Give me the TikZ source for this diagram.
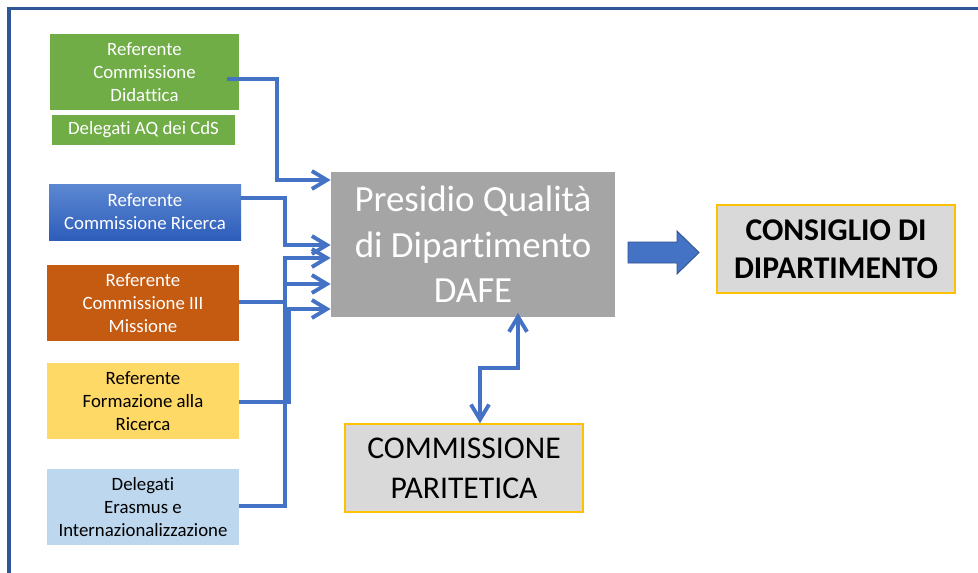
\documentclass[tikz,border=0pt]{standalone}
\usepackage{fontspec}
\setmainfont{Carlito}[Ligatures={NoCommon,NoRare}]
\usetikzlibrary{arrows.meta}
\definecolor{frameblue}{RGB}{47,85,151}
\definecolor{lineblue}{RGB}{68,114,196}
\definecolor{arrowedge}{RGB}{47,82,143}
\definecolor{didgreen}{RGB}{112,173,71}
\definecolor{rictop}{RGB}{92,136,210}
\definecolor{ricbottom}{RGB}{46,93,186}
\definecolor{terzaorange}{RGB}{197,90,17}
\definecolor{formyellow}{RGB}{255,217,102}
\definecolor{eraslight}{RGB}{189,215,238}
\definecolor{pqgray}{RGB}{165,165,165}
\definecolor{boxgray}{RGB}{217,217,217}
\definecolor{boxgold}{RGB}{255,192,0}

\begin{document}
\begin{tikzpicture}[
	small/.style={minimum width=3.84cm, minimum height=1.52cm, align=center, inner sep=0pt,
		font=\fontsize{10.7}{13}\selectfont},
	big/.style={fill=boxgray, draw=boxgold, line width=0.8pt, minimum width=4.76cm,
		minimum height=1.76cm, align=center, inner sep=0pt},
	link/.style={lineblue, line width=2.2pt, -{Straight Barb[length=0.3cm,width=0.36cm]}},
	both/.style={lineblue, line width=2.2pt,
		{Straight Barb[length=0.3cm,width=0.36cm]}-{Straight Barb[length=0.3cm,width=0.36cm]}}
	]
	\useasboundingbox (0,0) rectangle (19.56,-11.46);
	
	% frame
	\draw[frameblue, line width=2.2pt] (0.18,-11.46) -- (0.18,-0.17) -- (19.56,-0.17);
	
	% left boxes
	\node[small, fill=didgreen, text=white, minimum width=3.78cm] (did) at (2.89,-1.44)
		{Referente\\Commissione\\Didattica};
	\node[small, fill=didgreen, text=white, minimum width=3.66cm, minimum height=0.6cm] (aq) at (2.87,-2.60)
		{Delegati AQ dei CdS};
	\node[small, top color=rictop, bottom color=ricbottom, text=white, minimum height=1.12cm] (ric) at (2.90,-4.24)
		{Referente\\Commissione Ricerca};
	\node[small, fill=terzaorange, text=white] (terza) at (2.86,-6.06)
		{Referente\\Commissione III\\Missione};
	\node[small, fill=formyellow] (form) at (2.86,-8.02)
		{Referente\\Formazione alla\\Ricerca};
	\node[small, fill=eraslight] (eras) at (2.86,-10.14)
		{Delegati\\Erasmus e\\Internazionalizzazione};
	
	% presidio
	\node[fill=pqgray, text=white, minimum width=5.68cm, minimum height=2.90cm, align=center, inner sep=0pt,
		font=\fontsize{21}{25.8}\selectfont] (pq) at (9.46,-4.89)
		{Presidio Qualità\\di Dipartimento\\DAFE};
	
	% right and bottom boxes
	\node[big, font=\fontsize{18}{21.5}\selectfont\bfseries] (cons) at (16.72,-4.98)
		{CONSIGLIO DI\\DIPARTIMENTO};
	\node[big, font=\fontsize{18}{22.7}\selectfont] (cp) at (9.28,-9.36)
		{COMMISSIONE\\PARITETICA};
	
	% block arrow
	\fill[lineblue, draw=arrowedge, line width=0.5pt] (12.56,-4.84) -- (13.54,-4.84) -- (13.54,-4.62)
		-- (13.98,-5.05) -- (13.54,-5.48) -- (13.54,-5.26) -- (12.56,-5.26) -- cycle;
	
	% connectors
	\draw[link] (4.54,-1.58) -| (5.54,-3.60) -- (pq.west |- 0,-3.60);
	\draw[link] (ric.east |- 0,-3.96) -| (5.70,-4.90) -- (pq.west |- 0,-4.90);
	\draw[link] (terza.east |- 0,-6.04) -| (5.70,-5.16) -- (pq.west |- 0,-5.16);
	\draw[link] (eras.east |- 0,-10.12) -| (5.70,-5.68) -- (pq.west |- 0,-5.68);
	\draw[link] (form.east |- 0,-8.04) -| (5.78,-6.18) -- (pq.west |- 0,-6.18);
	\draw[both] (cp.north -| 9.60,0) |- (10.36,-7.36) -- (10.36,-6.26);
	
\end{tikzpicture}
\end{document}
